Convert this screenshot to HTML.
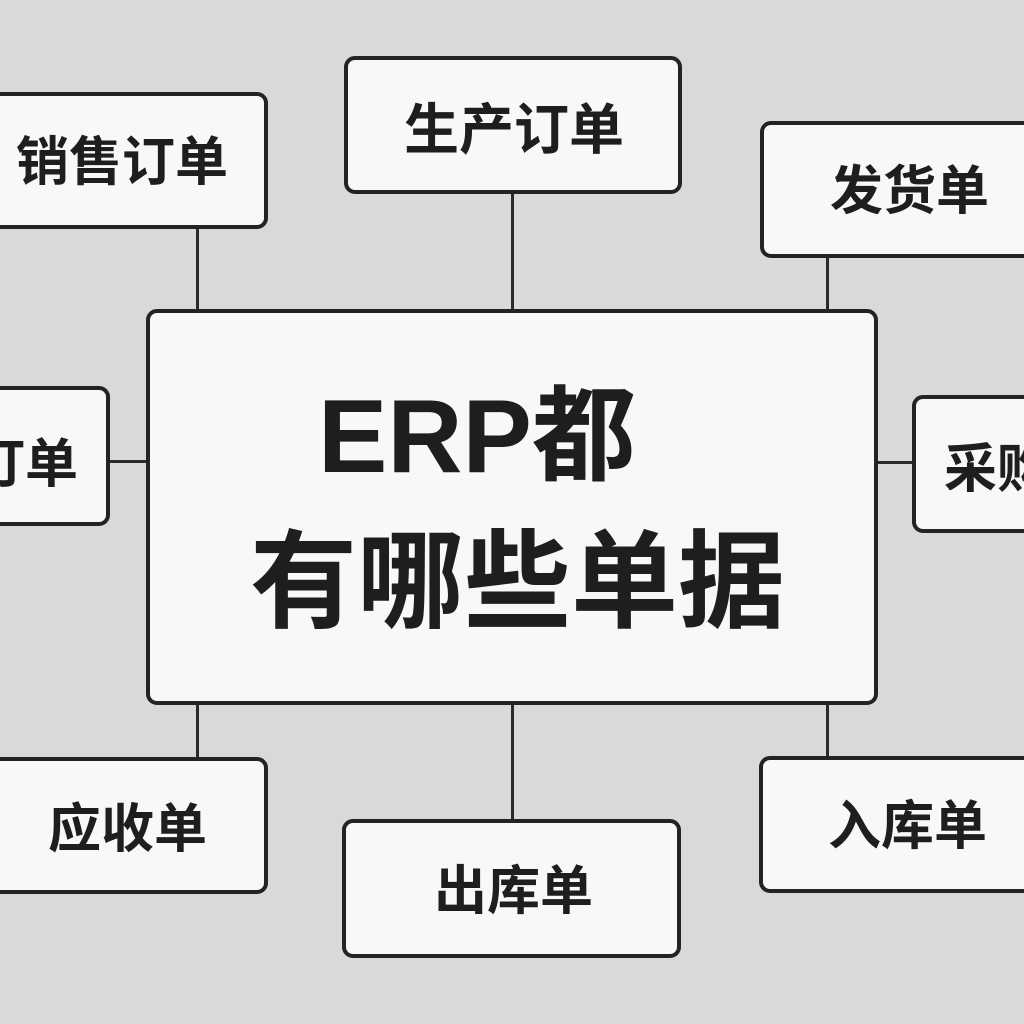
<!DOCTYPE html>
<html><head><meta charset="utf-8"><style>
body{margin:0;width:1024px;height:1024px;background:#d9d9d7;position:relative;overflow:hidden;font-family:"Liberation Sans","Noto Sans CJK SC",sans-serif;}
.b{position:absolute;box-sizing:border-box;background:#f8f8f6;border:4px solid #232323;border-radius:11px;}
.t{position:absolute;font-weight:bold;color:#1e1e1e;white-space:nowrap;line-height:1;}
.l{position:absolute;background:#2a2a2a;}
</style></head><body>
<div class="l" style="left:196px;top:226px;width:3px;height:86px"></div>
<div class="l" style="left:511px;top:191px;width:3px;height:121px"></div>
<div class="l" style="left:826px;top:255px;width:3px;height:57px"></div>
<div class="l" style="left:107px;top:460px;width:42px;height:3px"></div>
<div class="l" style="left:875px;top:461px;width:40px;height:3px"></div>
<div class="l" style="left:196px;top:702px;width:3px;height:58px"></div>
<div class="l" style="left:511px;top:702px;width:3px;height:120px"></div>
<div class="l" style="left:826px;top:702px;width:3px;height:57px"></div>

<div class="b" style="left:-12px;top:92px;width:280px;height:137px"></div>
<div class="b" style="left:344px;top:56px;width:338px;height:138px"></div>
<div class="b" style="left:760px;top:121px;width:280px;height:137px"></div>
<div class="b" style="left:-12px;top:386px;width:122px;height:140px"></div>
<div class="b" style="left:146px;top:309px;width:732px;height:396px"></div>
<div class="b" style="left:912px;top:395px;width:130px;height:138px"></div>
<div class="b" style="left:-12px;top:757px;width:280px;height:137px"></div>
<div class="b" style="left:342px;top:819px;width:339px;height:139px"></div>
<div class="b" style="left:759px;top:756px;width:280px;height:137px"></div>

<div class="t" style="left:16px;top:136px;font-size:53px">销售订单</div>
<div class="t" style="left:404px;top:103px;font-size:55px">生产订单</div>
<div class="t" style="left:830px;top:165px;font-size:53px">发货单</div>
<div class="t" style="left:-28px;top:438px;font-size:53px">订单</div>
<div class="t" style="left:944px;top:443px;font-size:53px">采购</div>
<div class="t" style="left:48px;top:803px;font-size:53px">应收单</div>
<div class="t" style="left:434px;top:865px;font-size:53px">出库单</div>
<div class="t" style="left:828px;top:800px;font-size:53px">入库单</div>

<div class="t" style="left:318px;top:385px;font-size:104px">ERP都</div>
<div class="t" style="left:250px;top:529px;font-size:107px">有哪些单据</div>
</body></html>
